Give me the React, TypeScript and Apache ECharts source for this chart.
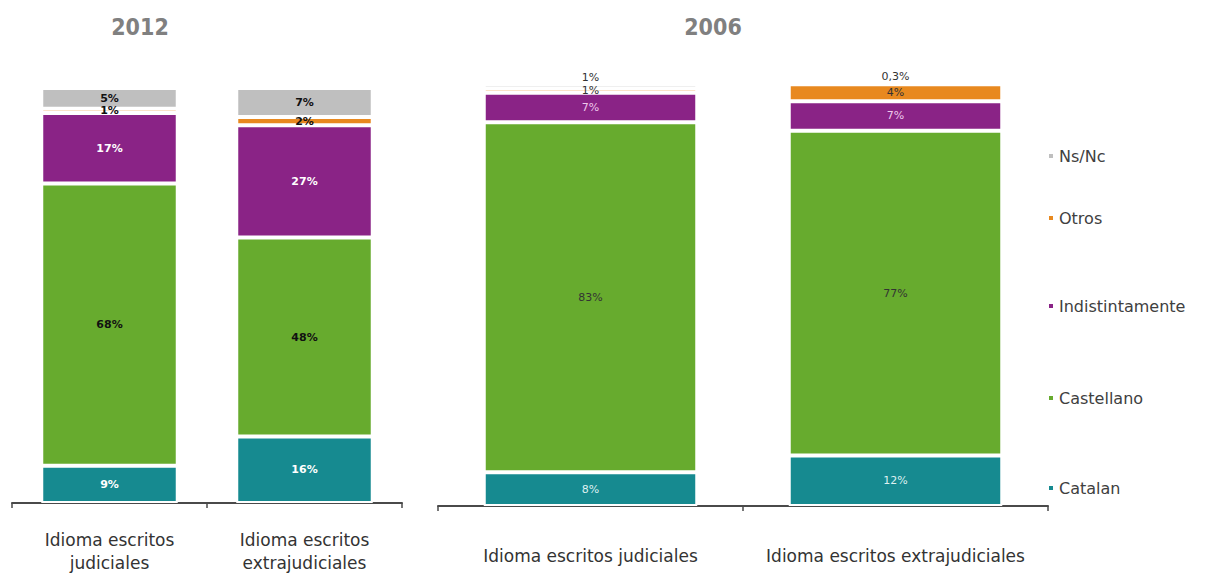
import React, { useEffect, useRef } from "react";
import * as echarts from "echarts";

// ---- data ----
const seriesNames = ["Catalan", "Castellano", "Indistintamente", "Otros", "Ns/Nc"];
const categories2012 = ["Idioma escritos\njudiciales", "Idioma escritos\nextrajudiciales"];
const categories2006 = ["Idioma escritos judiciales", "Idioma escritos extrajudiciales"];
const catalan2012 = [9, 16];
const castellano2012 = [68, 48];
const indistintamente2012 = [17, 27];
const otros2012 = [1, 2];
const nsnc2012 = [5, 7];
const catalan2006 = [8, 12];
const castellano2006 = [83, 77];
const indistintamente2006 = [7, 7];
const otros2006 = [1, 4];
const nsnc2006 = [1, 0.3];
const titles = ["2012", "2006"];

const colors = ["#168a90", "#67ab2e", "#8a2386", "#e8891f", "#bfbfbf"];
const labelColors2012 = ["#ffffff", "#111111", "#ffffff", "#111111", "#111111"];
const labelColors2006 = ["#dff0f0", "#333333", "#efc9ec", "#333333", "#333333"];
const FONT = "DejaVu Sans";
const TITLE_FONT = "DejaVu Sans Condensed, Liberation Sans, sans-serif";

const fmt = (p: any) => `${String(p.value).replace(".", ",")}%`;

export default function App() {
  const ref = useRef<HTMLDivElement>(null);
  useEffect(() => {
    if (!ref.current) return;
    const chart = echarts.init(ref.current, null, { renderer: "svg" });
    const data2012 = [catalan2012, castellano2012, indistintamente2012, otros2012, nsnc2012];
    const data2006 = [catalan2006, castellano2006, indistintamente2006, otros2006, nsnc2006];
    const mk = (grid: number, data: number[][], lc: string[], bold: boolean, bw: string) =>
      seriesNames.map((name, i) => ({
        name,
        type: "bar",
        stack: "s" + grid,
        xAxisIndex: grid,
        yAxisIndex: grid,
        barWidth: bw,
        data: data[i],
        itemStyle: { color: colors[i], borderColor: "#ffffff", borderWidth: 2 },
        label: {
          show: true,
          position: grid === 1 && i === 4 ? "top" : "inside",
          distance: 1,
          formatter: fmt,
          color: lc[i],
          fontFamily: FONT,
          fontSize: 11,
          fontWeight: bold ? "bold" : "normal",
        },
      }));
    const legendTops = [143, 205, 293, 385, 475];
    const legends = seriesNames.map((n, i) => ({
      data: [n],
      left: 1042,
      top: legendTops[4 - i],
      orient: "vertical",
      icon: "rect",
      itemWidth: 6,
      itemHeight: 6,
      itemGap: 5,
      textStyle: { fontFamily: FONT, fontSize: 16, color: "#404040" },
    }));
    const xAxisBase = {
      type: "category",
      axisLine: { lineStyle: { color: "#4a4a4a", width: 2 } },
      axisTick: { show: true, length: 5, lineStyle: { color: "#4a4a4a", width: 1.5 } },
      axisLabel: { interval: 0, fontFamily: FONT, fontSize: 17, color: "#333333", lineHeight: 23 },
    };
    const titleStyle = { fontFamily: TITLE_FONT, fontWeight: "bold", fontSize: 23, color: "#808080" };
    chart.setOption({
      animation: false,
      backgroundColor: "#ffffff",
      title: [
        { text: titles[0], left: 135, top: 10, textAlign: "center", textStyle: titleStyle },
        { text: titles[1], left: 708, top: 10, textAlign: "center", textStyle: titleStyle },
      ],
      legend: legends,
      grid: [
        { left: 12, width: 390, top: 88, height: 418 },
        { left: 438, width: 610, top: 83, height: 423 },
      ],
      xAxis: [
        { ...xAxisBase, gridIndex: 0, data: categories2012, axisLabel: { ...xAxisBase.axisLabel, margin: 25 } },
        { ...xAxisBase, gridIndex: 1, data: categories2006, axisLabel: { ...xAxisBase.axisLabel, margin: 38 } },
      ],
      yAxis: [
        { type: "value", gridIndex: 0, min: 0, max: 100, show: false },
        { type: "value", gridIndex: 1, min: 0, max: (v: any) => v.max, show: false },
      ],
      series: [
        ...mk(0, data2012, labelColors2012, true, "70%"),
        ...mk(1, data2006, labelColors2006, false, "70%"),
      ],
    });
    return () => chart.dispose();
  }, []);
  return (
    <div
      ref={ref}
      style={{ position: "absolute", left: 0, top: 0, width: 1208, height: 574 }}
    />
  );
}
